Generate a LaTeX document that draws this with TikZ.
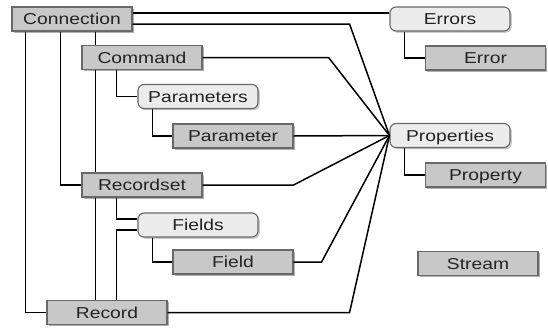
\documentclass[tikz,border=0pt]{standalone}
\usepackage{fontspec}
\setmainfont{Liberation Sans}[FakeStretch=1.22]
\usetikzlibrary{shadows,calc}
\definecolor{boxfill}{RGB}{200,200,200}
\definecolor{roundfill}{RGB}{236,236,236}
\definecolor{edgegray}{RGB}{105,105,105}
\definecolor{inkgray}{RGB}{35,35,35}
\tikzset{
  objbox/.style={draw=edgegray, line width=1.1pt, fill=boxfill,
    minimum width=120pt, minimum height=24pt, inner sep=0pt,
    text height=11pt, text depth=0pt, text=inkgray,
    font=\fontsize{15.8}{18}\selectfont,
    drop shadow={shadow xshift=1.6pt, shadow yshift=-1.6pt, fill=black!30, opacity=1}},
  collbox/.style={objbox, fill=roundfill, rounded corners=6pt,
    drop shadow={shadow xshift=1.2pt, shadow yshift=-1.2pt, fill=black!20, opacity=1}},
  link/.style={line width=1.5pt, black}
}
\begin{document}
\begin{tikzpicture}[x=1pt, y=-1pt]
  \fill[white] (0,0) rectangle (548,327);
  \useasboundingbox (0,0) rectangle (548,327);

  % object boxes
  \node[objbox]  (conn)   at (72,19)     {Connection};
  \node[objbox]  (cmd)    at (142,57.5)  {Command};
  \node[collbox] (params) at (198,96.5)  {Parameters};
  \node[objbox]  (param)  at (233,136)   {Parameter};
  \node[objbox]  (rs)     at (142,185)   {Recordset};
  \node[collbox] (fields) at (198,225)   {Fields};
  \node[objbox]  (field)  at (233,262)   {Field};
  \node[objbox]  (rec)    at (107,312.5) {Record};
  \node[collbox] (errs)   at (450,19)    {Errors};
  \node[objbox]  (err)    at (485.5,58)  {Error};
  \node[collbox] (props)  at (450,135.5) {Properties};
  \node[objbox]  (prop)   at (485.5,175) {Property};
  \node[objbox]  (stream) at (478,263.5) {Stream};

  % tree links on the left
  \draw[link] ([xshift=14pt]conn.south west) |- (rec.west);
  \draw[link] ([xshift=49pt]conn.south west) |- (rs.west);
  \draw[link] ([xshift=84pt]conn.south west) coordinate (c1) -- (c1 |- cmd.north);
  \draw[link] ([xshift=14pt]cmd.south west) coordinate (c2) -- (c2 |- rs.north);
  \draw[link] ([xshift=14pt]rs.south west) coordinate (c3) -- (c3 |- rec.north);
  \draw[link] ([xshift=35pt]cmd.south west) |- (params.west);
  \draw[link] ([xshift=15pt]params.south west) |- (param.west);
  \draw[link] ([xshift=35pt]rs.south west) |- ([yshift=6pt]fields.west);
  \draw[link] ([xshift=70pt]rec.north west) |- ([yshift=-5pt]fields.west);
  \draw[link] ([xshift=15pt]fields.south west) |- (field.west);
  \draw[link] ([xshift=15pt]errs.south west) |- (err.west);
  \draw[link] ([xshift=15pt]props.south west) |- (prop.west);

  % links to Errors and Properties
  \draw[link] ([yshift=6pt]conn.east) coordinate (c4) -- (c4 -| errs.west);
  \draw[link] ([yshift=-5pt]conn.east) -- ++(217,0) -- (props.west);
  \draw[link] (cmd.east) -- ++(126,0) -- (props.west);
  \draw[link] (param.east) -- (props.west);
  \draw[link] (rs.east) -- ++(91,0) -- (props.west);
  \draw[link] (field.east) -- ++(28,0) -- (props.west);
  \draw[link] (rec.east) -- ++(182,0) -- (props.west);
\end{tikzpicture}
\end{document}
